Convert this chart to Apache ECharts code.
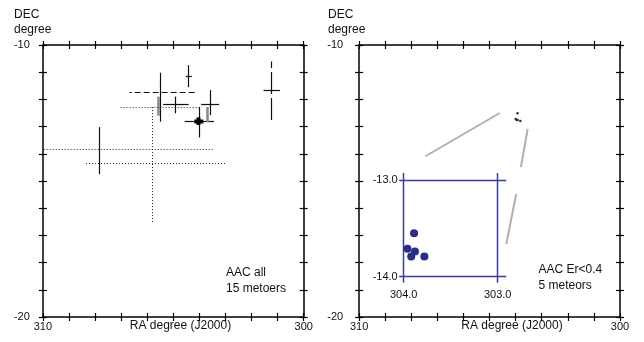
<!DOCTYPE html>
<html>
<head>
<meta charset="utf-8">
<script src="https://cdn.jsdelivr.net/npm/echarts@6/dist/echarts.min.js"></script>
<style>
  html, body { margin: 0; padding: 0; background: #fff; }
  #chart { width: 644px; height: 342px; }
</style>
</head>
<body>
<div id="chart"></div>
<script>
// ---- axis ticks and labels ----
const raRange = [300, 310];
const decRange = [-20, -10];
const raTickLabels = [310, 300];
const decTickLabels = [-10, -20];
const zoomRaLabels = [304.0, 303.0];
const zoomDecLabels = [-13.0, -14.0];

// ---- all AAC meteors: radiant centre and error extents (degrees) ----
const raCentre  = [304.41, 305.48, 305.56, 304.91, 305.55, 303.58, 303.99, 304.02, 303.67, 307.83, 305.81, 301.25];
const decCentre = [-11.14, -11.73, -12.25, -12.17, -12.28, -12.17, -12.80, -12.80, -12.55, -13.86, -14.34, -11.68];
const raLow     = [304.29, 304.18, 305.56, 304.41, 303.99, 303.24, 303.44, 303.85, 303.67, 303.49, 303.02, 300.91];
const raHigh    = [304.52, 306.68, 305.56, 305.39, 307.08, 303.93, 304.56, 304.19, 303.67, 309.97, 308.38, 301.54];
const decLow    = [-11.55, -12.82, -12.60, -12.51, -12.28, -12.58, -13.40, -12.94, -12.83, -14.75, -16.51, -12.76];
const decHigh   = [-10.74, -11.02, -11.90, -11.90, -12.28, -11.66, -12.28, -12.66, -12.28, -13.02, -12.28, -10.61];
// drawing style of each error bar
const raBarStyle  = ['solid', 'dashed', 'none', 'solid', 'dotted', 'solid', 'solid', 'bold', 'none', 'dotted', 'dotted', 'solid'];
const decBarStyle = ['solid', 'solid', 'grey', 'solid', 'none', 'solid', 'solid', 'bold', 'grey', 'solid', 'dotted', 'longdash'];

// ---- Er<0.4 subset (zoom box coordinates) ----
const subRa  = [303.89, 303.96, 303.88, 303.92, 303.78];
const subDec = [-13.55, -13.71, -13.74, -13.79, -13.79];
// the same five radiants as marked on the overview
const subRaOverview  = [303.93, 304.00, 303.92, 303.82, 303.96];
const subDecOverview = [-12.51, -12.72, -12.76, -12.79, -12.76];
// leader lines from the overview marks toward the zoom box
const leaderFrom = [[304.61, -12.50], [303.54, -13.09], [303.98, -15.48]];
const leaderTo   = [[307.46, -14.09], [303.80, -14.49], [304.36, -17.32]];

const FONT = '"Liberation Sans", Arial, sans-serif';
const INK = '#111';
const BLUE = '#3a3c9c';

const barStyles = {
  solid:    { stroke: '#111', lineWidth: 1.2 },
  dashed:   { stroke: '#111', lineWidth: 1.2, lineDash: [6, 3] },
  dotted:   { stroke: '#222', lineWidth: 1, lineDash: [1, 2] },
  longdash: { stroke: '#111', lineWidth: 1.2, lineDash: [22, 4] },
  grey:     { stroke: '#888', lineWidth: 2.5 },
  bold:     { stroke: '#000', lineWidth: 4 }
};

const panels = [
  { left: 42.85, top: 45, width: 260.85, height: 272, labelMarginY: 13 },
  { left: 359.15, top: 45, width: 260.85, height: 272, labelMarginY: 16 }
];
const zoomBox = { left: 403.7, top: 180, width: 94, height: 96.7 };

const grids = panels.map(p => ({ left: p.left, top: p.top, width: p.width, height: p.height }));
grids.push({ left: zoomBox.left, top: zoomBox.top, width: zoomBox.width, height: zoomBox.height });

const xAxes = [];
const yAxes = [];
panels.forEach((p, g) => {
  ['bottom', 'top'].forEach(pos => {
    [false, true].forEach(inside => {
      xAxes.push({
        gridIndex: g, type: 'value', position: pos,
        min: raRange[0], max: raRange[1], interval: 1, inverse: true,
        axisLine: { show: !inside, lineStyle: { color: '#000', width: 1.5 } },
        axisTick: { show: true, inside: inside, length: 4, lineStyle: { color: '#000', width: 1.2 } },
        axisLabel: {
          show: pos === 'bottom' && !inside, margin: 4, fontFamily: FONT, fontSize: 11, color: INK,
          formatter: v => raTickLabels.includes(v) ? String(v) : ''
        },
        splitLine: { show: false }
      });
    });
  });
  ['left', 'right'].forEach(pos => {
    [false, true].forEach(inside => {
      yAxes.push({
        gridIndex: g, type: 'value', position: pos,
        min: decRange[0], max: decRange[1], interval: 1,
        axisLine: { show: !inside, lineStyle: { color: '#000', width: 1.5 } },
        axisTick: { show: true, inside: inside, length: 4, lineStyle: { color: '#000', width: 1.2 } },
        axisLabel: {
          show: pos === 'left' && !inside, margin: p.labelMarginY, fontFamily: FONT, fontSize: 11, color: INK,
          formatter: v => decTickLabels.includes(v) ? String(v) : ''
        },
        splitLine: { show: false }
      });
    });
  });
});
// zoom box axes
xAxes.push({
  gridIndex: 2, type: 'value', min: 303, max: 304, interval: 1, inverse: true,
  axisLine: { show: false }, axisTick: { show: false }, splitLine: { show: false },
  axisLabel: { margin: 13, fontFamily: FONT, fontSize: 11, color: INK,
    formatter: v => zoomRaLabels.includes(v) ? v.toFixed(1) : '' }
});
yAxes.push({
  gridIndex: 2, type: 'value', min: -14, max: -13, interval: 1,
  axisLine: { show: false }, axisTick: { show: false }, splitLine: { show: false },
  axisLabel: { margin: 6, fontFamily: FONT, fontSize: 11, color: INK,
    formatter: v => zoomDecLabels.includes(v) ? v.toFixed(1) : '' }
});

const crisp = v => Math.round(v - 0.5) + 0.5;

// error-cross data
const crossData = raCentre.map((ra, i) => [ra, decCentre[i], raLow[i], raHigh[i], decLow[i], decHigh[i]]);

function renderCross(params, api) {
  const i = params.dataIndex;
  const ra = api.value(0), dec = api.value(1);
  const children = [];
  const hs = raBarStyle[i], vs = decBarStyle[i];
  if (hs !== 'none') {
    const a = api.coord([api.value(2), dec]);
    const b = api.coord([api.value(3), dec]);
    const y = crisp(a[1]);
    children.push({ type: 'line', shape: { x1: a[0], y1: y, x2: b[0], y2: y }, style: Object.assign({ fill: null }, barStyles[hs]) });
  }
  if (vs !== 'none') {
    const a = api.coord([ra, api.value(4)]);
    const b = api.coord([ra, api.value(5)]);
    const x = crisp(a[0]);
    children.push({ type: 'line', shape: { x1: x, y1: a[1], x2: x, y2: b[1] }, style: Object.assign({ fill: null }, barStyles[vs]) });
  }
  return { type: 'group', children: children };
}

// zoom box frame: lines through the labelled values, running a little past each other
const frameData = [];
zoomDecLabels.forEach(d => frameData.push(['h', d]));
zoomRaLabels.forEach(r => frameData.push(['v', r]));
function renderFrame(params, api) {
  const item = frameData[params.dataIndex];
  const style = { stroke: BLUE, lineWidth: 1.5, fill: null };
  if (item[0] === 'h') {
    const a = api.coord([zoomRaLabels[0], item[1]]);
    const b = api.coord([zoomRaLabels[1], item[1]]);
    const y = crisp(a[1]);
    return { type: 'line', shape: { x1: a[0] - 4.5, y1: y, x2: b[0] + 8.5, y2: y }, style };
  }
  const a = api.coord([item[1], zoomDecLabels[0]]);
  const b = api.coord([item[1], zoomDecLabels[1]]);
  const x = crisp(a[0]);
  return { type: 'line', shape: { x1: x, y1: a[1] - 7, x2: x, y2: b[1] + 6 }, style };
}

const leaderData = leaderFrom.map((f, i) => ({ coords: [f, leaderTo[i]] }));

const texts = [
  { x: 14, y: 14.5, t: 'DEC' }, { x: 14, y: 30, t: 'degree' },
  { x: 328, y: 14.5, t: 'DEC' }, { x: 328, y: 30, t: 'degree' },
  { x: 180.5, y: 326, t: 'RA degree (J2000)', align: 'center' },
  { x: 512, y: 326, t: 'RA degree (J2000)', align: 'center' },
  { x: 226, y: 272.5, t: 'AAC all' }, { x: 226, y: 289, t: '15 metoers' },
  { x: 538.5, y: 270, t: 'AAC Er<0.4' }, { x: 538.5, y: 286, t: '5 meteors' }
];

const option = {
  backgroundColor: '#fff',
  animation: false,
  grid: grids,
  xAxis: xAxes,
  yAxis: yAxes,
  graphic: texts.map(o => ({
    type: 'text', x: o.x, y: o.y,
    style: { text: o.t, fill: INK, font: '12px ' + FONT, textAlign: o.align || 'left', textVerticalAlign: 'middle' }
  })),
  series: [
    {
      type: 'custom', name: 'AAC all', xAxisIndex: 0, yAxisIndex: 0,
      renderItem: renderCross, data: crossData, clip: false,
      encode: { x: [0, 2, 3], y: [1, 4, 5] }
    },
    {
      type: 'lines', coordinateSystem: 'cartesian2d', xAxisIndex: 4, yAxisIndex: 4,
      data: leaderData, symbol: 'none',
      lineStyle: { color: '#b0b0b0', width: 2, opacity: 1 }
    },
    {
      type: 'scatter', name: 'Er<0.4 overview', xAxisIndex: 4, yAxisIndex: 4,
      data: subRaOverview.map((r, i) => [r, subDecOverview[i]]),
      symbolSize: 2.5, itemStyle: { color: '#333', opacity: 1 }
    },
    {
      type: 'custom', name: 'frame', xAxisIndex: 8, yAxisIndex: 8,
      renderItem: renderFrame, data: frameData.map(f => [f[1]]), clip: false
    },
    {
      type: 'scatter', name: 'AAC Er<0.4', xAxisIndex: 8, yAxisIndex: 8,
      data: subRa.map((r, i) => [r, subDec[i]]),
      symbolSize: 8, itemStyle: { color: '#2a2d8a', opacity: 1 }
    }
  ]
};

const chart = echarts.init(document.getElementById('chart'), null, { renderer: 'canvas' });
chart.setOption(option);
</script>
</body>
</html>
